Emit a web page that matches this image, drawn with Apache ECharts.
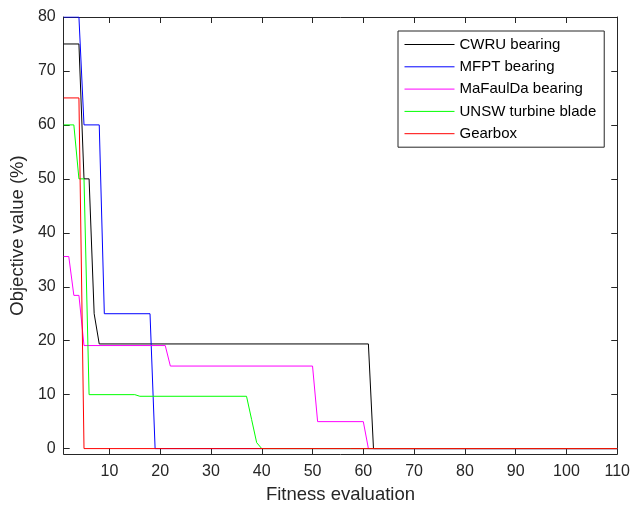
<!DOCTYPE html>
<html>
<head>
<meta charset="utf-8">
<script src="https://cdn.jsdelivr.net/npm/echarts@6/dist/echarts.min.js"></script>
<style>
  html, body { margin: 0; padding: 0; background: #fff; }
  #chart { width: 633px; height: 509px; }
</style>
</head>
<body>
<div id="chart"></div>
<script>
// Convergence curves: [fitness evaluation, objective value %] breakpoints
const cwru     = [[1, 75], [4, 75], [5, 50], [6, 50], [7, 25], [8, 19.4], [61, 19.4], [62, 0], [110, 0]];
const mfpt     = [[1, 80], [4, 80], [5, 60], [8, 60], [9, 25], [18, 25], [19, 0], [110, 0]];
const mafaulda = [[1, 35.6], [2, 35.6], [3, 28.4], [4, 28.4], [5, 19.1], [21, 19.1], [22, 15.3], [50, 15.3], [51, 5], [60, 5], [61, 0], [110, 0]];
const unsw     = [[1, 60], [3, 60], [4, 50], [5, 50], [6, 10], [15, 10], [16, 9.7], [37, 9.7], [38, 5.4], [39, 1.1], [40, 0], [110, 0]];
const gearbox  = [[1, 65], [4, 65], [5, 0], [110, 0]];

const seriesNames  = ['CWRU bearing', 'MFPT bearing', 'MaFaulDa bearing', 'UNSW turbine blade', 'Gearbox'];
const seriesColors = ['#000000', '#0000ff', '#ff00ff', '#00ff00', '#ff0000'];
const seriesData   = [cwru, mfpt, mafaulda, unsw, gearbox];

const xTicks = [10, 20, 30, 40, 50, 60, 70, 80, 90, 100, 110];
const yTicks = [0, 10, 20, 30, 40, 50, 60, 70, 80];

const FONT = "'Liberation Sans', Arial, Helvetica, sans-serif";
const AX = '#262626';

const chart = echarts.init(document.getElementById('chart'), null, { renderer: 'canvas' });

function xAxisDef(pos, showLabels) {
  return {
    type: 'value', position: pos, min: 1, max: 110,
    axisLine: { show: true, onZero: false, lineStyle: { color: AX, width: 1 } },
    axisTick: { show: true, inside: true, length: 6, customValues: xTicks, lineStyle: { color: AX } },
    axisLabel: { show: showLabels, customValues: xTicks, fontFamily: FONT, fontSize: 16, color: AX, margin: 10 },
    splitLine: { show: false },
    name: showLabels ? 'Fitness evaluation' : '',
    nameLocation: 'middle', nameGap: 31,
    nameTextStyle: { fontFamily: FONT, fontSize: 18.5, color: AX }
  };
}
function yAxisDef(pos, showLabels) {
  return {
    type: 'value', position: pos, min: -1, max: 80,
    axisLine: { show: true, onZero: false, lineStyle: { color: AX, width: 1 } },
    axisTick: { show: true, inside: true, length: 6, customValues: yTicks, lineStyle: { color: AX } },
    axisLabel: { show: showLabels, customValues: yTicks, fontFamily: FONT, fontSize: 16, color: AX, margin: 8 },
    splitLine: { show: false },
    name: showLabels ? 'Objective value (%)' : '',
    nameLocation: 'middle', nameGap: 35, nameRotate: 90,
    nameTextStyle: { fontFamily: FONT, fontSize: 18.5, color: AX }
  };
}

chart.setOption({
  animation: false,
  backgroundColor: '#ffffff',
  grid: { left: 61, right: 15, top: 17, bottom: 52 },
  xAxis: [xAxisDef('bottom', true), xAxisDef('top', false)],
  yAxis: [yAxisDef('left', true), yAxisDef('right', false)],
  legend: {
    show: true,
    orient: 'vertical',
    left: 398, top: 31,
    padding: [6, 8, 6, 6],
    itemWidth: 50, itemHeight: 14, itemGap: 7.3,
    backgroundColor: '#ffffff',
    borderColor: AX, borderWidth: 1,
    itemStyle: { opacity: 0 },
    lineStyle: { width: 1 },
    textStyle: { fontFamily: FONT, fontSize: 15, color: '#000', lineHeight: 14 },
    data: seriesNames
  },
  series: seriesNames.map((name, i) => ({
    name: name,
    type: 'line',
    xAxisIndex: 0, yAxisIndex: 0,
    data: seriesData[i],
    symbol: 'none',
    color: seriesColors[i],
    lineStyle: { color: seriesColors[i], width: 1 },
    clip: true
  }))
});
</script>
</body>
</html>
